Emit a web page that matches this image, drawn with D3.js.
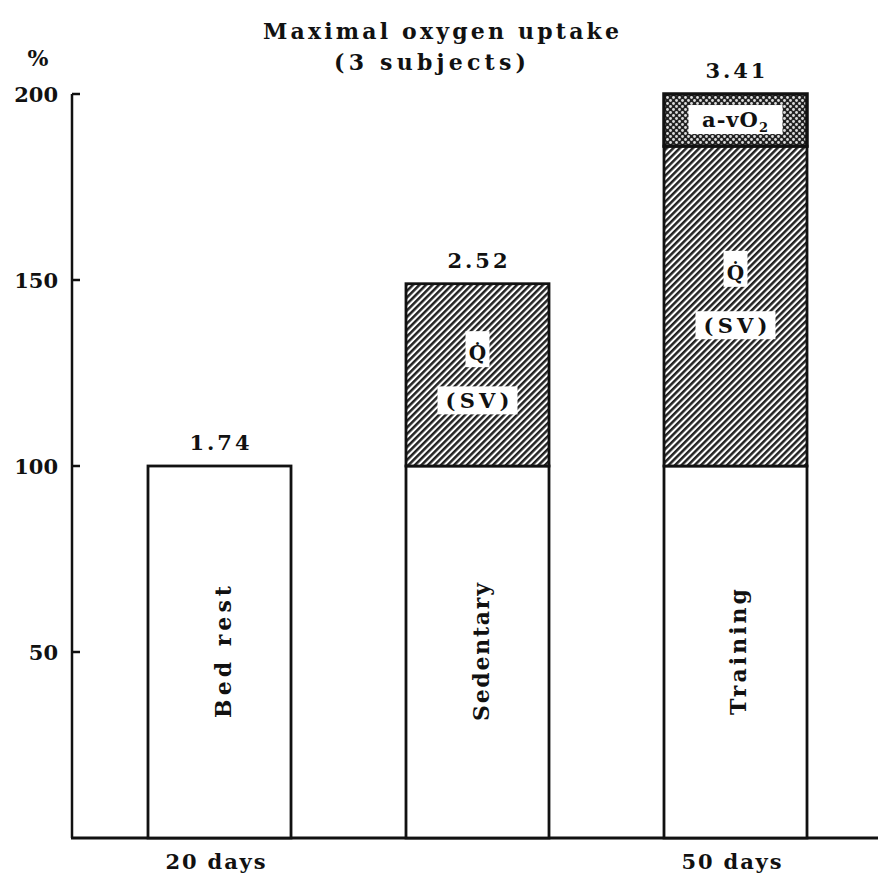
<!DOCTYPE html>
<html><head><meta charset="utf-8">
<script src="https://cdn.jsdelivr.net/npm/d3@7/dist/d3.min.js"></script>
<style>body{margin:0;background:#fff}svg{display:block}text{font-family:"DejaVu Serif","Liberation Serif",serif;font-weight:bold;fill:#111}</style>
</head><body>
<script>
const categories = ["Bed rest", "Sedentary", "Training"];
const baseValues = [100, 100, 100];
const qsvValues = [0, 49, 86];
const avo2Values = [0, 0, 14];
const totalLabels = ["1.74", "2.52", "3.41"];
const yTicks = [50, 100, 150, 200];
const dayLabels = [{at: "Bed rest", text: "20 days"}, {at: "Training", text: "50 days"}];

const W = 878, H = 878;
const svg = d3.select("body").append("svg").attr("width", W).attr("height", H);
const defs = svg.append("defs");
const hatch = defs.append("pattern").attr("id", "hatch").attr("patternUnits", "userSpaceOnUse")
  .attr("width", 4.6).attr("height", 4.6).attr("patternTransform", "rotate(45)");
hatch.append("rect").attr("width", 4.6).attr("height", 4.6).attr("fill", "#fff");
hatch.append("rect").attr("width", 2.5).attr("height", 4.6).attr("fill", "#222");
const dots = defs.append("pattern").attr("id", "dots").attr("patternUnits", "userSpaceOnUse")
  .attr("width", 6).attr("height", 6);
dots.append("rect").attr("width", 6).attr("height", 6).attr("fill", "#222");
dots.append("circle").attr("cx", 1.5).attr("cy", 1.5).attr("r", 1.4).attr("fill", "#ddd");
dots.append("circle").attr("cx", 4.5).attr("cy", 4.5).attr("r", 1.4).attr("fill", "#ddd");

const y = d3.scaleLinear().domain([0, 200]).range([838, 94]);
const x = d3.scaleBand().domain(categories).range([148, 807]).paddingInner(0.4457).paddingOuter(0);
const bw = x.bandwidth();

// axes
const yAxis = d3.axisLeft(y).tickValues(yTicks).tickSize(0).tickPadding(14);
const gy = svg.append("g").attr("transform", "translate(72,0)").call(yAxis);
gy.select(".domain").remove();
gy.selectAll("text").style("font-size", "21px").style("font-family", '"DejaVu Serif",serif').style("font-weight", "bold").attr("fill", "#111").attr("dy", "0.35em");
svg.append("line").attr("x1", 72).attr("x2", 72).attr("y1", y(200)).attr("y2", y(0)).attr("stroke", "#111").attr("stroke-width", 2.5);
svg.selectAll(".tk").data(yTicks).enter().append("line")
  .attr("x1", 72).attr("x2", 80).attr("y1", d => y(d)).attr("y2", d => y(d)).attr("stroke", "#111").attr("stroke-width", 2.5);
svg.append("line").attr("x1", 71).attr("x2", 878).attr("y1", y(0)).attr("y2", y(0)).attr("stroke", "#111").attr("stroke-width", 3);

function spaced(sel, len) { return sel.attr("textLength", len).attr("lengthAdjust", "spacing"); }

svg.append("text").attr("x", 38).attr("y", 66).attr("text-anchor", "middle").style("font-size", "22px").text("%");
spaced(svg.append("text").attr("x", 441).attr("y", 39).attr("text-anchor", "middle").style("font-size", "22px"), 356).text("Maximal oxygen uptake");
spaced(svg.append("text").attr("x", 430).attr("y", 70).attr("text-anchor", "middle").style("font-size", "22px"), 192).text("(3 subjects)");

const g = svg.append("g");
const rotLen = [132, 138, 126];
categories.forEach((c, i) => {
  const x0 = x(c);
  const cx = x0 + bw / 2;
  const b = baseValues[i], q = qsvValues[i], a = avo2Values[i];
  g.append("rect").attr("x", x0).attr("y", y(b)).attr("width", bw).attr("height", y(0) - y(b))
    .attr("fill", "#fff").attr("stroke", "#111").attr("stroke-width", 2.8);
  if (q > 0) {
    g.append("rect").attr("x", x0).attr("y", y(b + q)).attr("width", bw).attr("height", y(b) - y(b + q))
      .attr("fill", "url(#hatch)").attr("stroke", "#111").attr("stroke-width", 2.8);
  }
  if (a > 0) {
    g.append("rect").attr("x", x0).attr("y", y(b + q + a)).attr("width", bw).attr("height", y(b + q) - y(b + q + a))
      .attr("fill", "url(#dots)").attr("stroke", "#111").attr("stroke-width", 3.5);
    const ym = (y(b + q) + y(b + q + a)) / 2;
    g.append("rect").attr("x", cx - 47).attr("y", ym - 15).attr("width", 94).attr("height", 29).attr("fill", "#fff");
    const t = g.append("text").attr("x", cx).attr("y", ym + 7).attr("text-anchor", "middle").style("font-size", "21px").style("letter-spacing", "1px");
    t.append("tspan").text("a-vO");
    t.append("tspan").attr("dy", 5).style("font-size", "13px").text("2");
  }
  if (q > 0) {
    const yq = i === 1 ? y(b + q * 0.63) : y(b + q * 0.61);
    const ys = i === 1 ? y(b + q * 0.36) : y(b + q * 0.44);
    g.append("rect").attr("x", cx - 12).attr("y", yq - 20).attr("width", 24).attr("height", 36).attr("fill", "#fff");
    g.append("text").attr("x", cx).attr("y", yq + 9).attr("text-anchor", "middle").style("font-size", "20px").text("Q\u0307");
    g.append("rect").attr("x", cx - 40).attr("y", ys - 14).attr("width", 80).attr("height", 28).attr("fill", "#fff");
    spaced(g.append("text").attr("x", cx).attr("y", ys + 8).attr("text-anchor", "middle").style("font-size", "21px"), 64).text("(SV)");
  }
  spaced(g.append("text").attr("x", cx).attr("y", y(b + q + a) - 16).attr("text-anchor", "middle").style("font-size", "21px"), 60).text(totalLabels[i]);
  spaced(g.append("text").attr("transform", `translate(${cx + 11},${y(50)}) rotate(-90)`).attr("text-anchor", "middle")
    .style("font-size", "22px"), rotLen[i]).text(c);
});
dayLabels.forEach(d => {
  spaced(svg.append("text").attr("x", x(d.at) + bw / 2 - 4).attr("y", 869).attr("text-anchor", "middle").style("font-size", "21px"), 100).text(d.text);
});
</script>
</body></html>
